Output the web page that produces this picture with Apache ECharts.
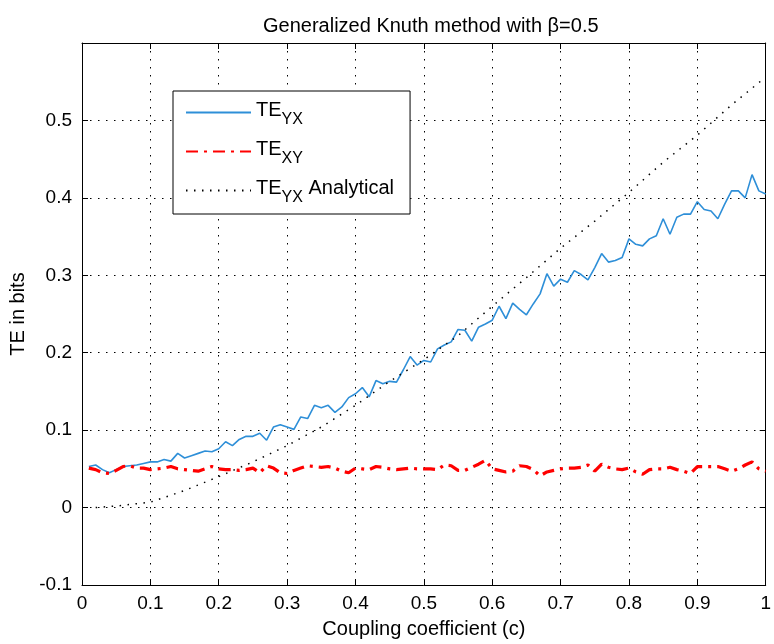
<!DOCTYPE html>
<html>
<head>
<meta charset="utf-8">
<script src="https://cdn.jsdelivr.net/npm/echarts@6/dist/echarts.min.js"></script>
<style>
  html, body { margin: 0; padding: 0; background: #fff; }
  #main { width: 774px; height: 644px; }
</style>
</head>
<body>
<div id="main"></div>
<script>
  // coupling coefficient c, step 0.01
  const coupling = [
    0.01, 0.02, 0.03, 0.04, 0.05, 0.06, 0.07, 0.08, 0.09, 0.10,
    0.11, 0.12, 0.13, 0.14, 0.15, 0.16, 0.17, 0.18, 0.19, 0.20,
    0.21, 0.22, 0.23, 0.24, 0.25, 0.26, 0.27, 0.28, 0.29, 0.30,
    0.31, 0.32, 0.33, 0.34, 0.35, 0.36, 0.37, 0.38, 0.39, 0.40,
    0.41, 0.42, 0.43, 0.44, 0.45, 0.46, 0.47, 0.48, 0.49, 0.50,
    0.51, 0.52, 0.53, 0.54, 0.55, 0.56, 0.57, 0.58, 0.59, 0.60,
    0.61, 0.62, 0.63, 0.64, 0.65, 0.66, 0.67, 0.68, 0.69, 0.70,
    0.71, 0.72, 0.73, 0.74, 0.75, 0.76, 0.77, 0.78, 0.79, 0.80,
    0.81, 0.82, 0.83, 0.84, 0.85, 0.86, 0.87, 0.88, 0.89, 0.90,
    0.91, 0.92, 0.93, 0.94, 0.95, 0.96, 0.97, 0.98, 0.99, 1.00
  ];

  const teYX = [
    0.053, 0.055, 0.049, 0.045, 0.049, 0.053, 0.054, 0.055, 0.057, 0.059,
    0.059, 0.062, 0.060, 0.070, 0.064, 0.067, 0.070, 0.073, 0.072, 0.076,
    0.085, 0.080, 0.088, 0.092, 0.092, 0.096, 0.087, 0.104, 0.107, 0.104,
    0.101, 0.117, 0.115, 0.132, 0.129, 0.132, 0.123, 0.130, 0.142, 0.147,
    0.155, 0.143, 0.164, 0.160, 0.163, 0.162, 0.178, 0.195, 0.184, 0.190,
    0.188, 0.205, 0.210, 0.214, 0.230, 0.229, 0.215, 0.233, 0.237, 0.242,
    0.260, 0.244, 0.264, 0.256, 0.249, 0.263, 0.276, 0.302, 0.286, 0.295,
    0.291, 0.306, 0.301, 0.294, 0.310, 0.328, 0.317, 0.319, 0.323, 0.347,
    0.340, 0.338, 0.347, 0.351, 0.373, 0.353, 0.375, 0.379, 0.379, 0.395,
    0.385, 0.383, 0.373, 0.392, 0.409, 0.409, 0.400, 0.430, 0.409, 0.405
  ];

  const teXY = [
    0.051, 0.049, 0.045, 0.044, 0.048, 0.053, 0.054, 0.051, 0.051, 0.049,
    0.050, 0.051, 0.053, 0.050, 0.049, 0.048, 0.047, 0.050, 0.053, 0.050,
    0.049, 0.049, 0.048, 0.049, 0.051, 0.045, 0.054, 0.051, 0.045, 0.044,
    0.048, 0.051, 0.054, 0.053, 0.052, 0.053, 0.051, 0.047, 0.045, 0.051,
    0.050, 0.049, 0.053, 0.052, 0.050, 0.049, 0.050, 0.051, 0.050, 0.050,
    0.050, 0.049, 0.055, 0.054, 0.048, 0.048, 0.052, 0.056, 0.061, 0.050,
    0.048, 0.046, 0.047, 0.054, 0.053, 0.049, 0.041, 0.046, 0.048, 0.050,
    0.051, 0.051, 0.052, 0.055, 0.047, 0.056, 0.052, 0.050, 0.049, 0.051,
    0.046, 0.043, 0.049, 0.050, 0.050, 0.052, 0.049, 0.047, 0.044, 0.053,
    0.053, 0.053, 0.053, 0.050, 0.047, 0.050, 0.055, 0.059, 0.050, 0.047
  ];

  const analyticalC = [
    0.02, 0.05, 0.10, 0.15, 0.20, 0.25, 0.30, 0.35, 0.40, 0.45, 0.50,
    0.55, 0.60, 0.65, 0.70, 0.75, 0.80, 0.85, 0.90, 0.95, 1.00
  ];
  const teYXAnalytical = [
    0.000, 0.002, 0.007, 0.022, 0.040, 0.059, 0.080, 0.104, 0.132, 0.163, 0.191,
    0.222, 0.260, 0.297, 0.335, 0.370, 0.407, 0.446, 0.481, 0.520, 0.556
  ];

  const xTicks = [0, 1, 0.1];
  const yTicks = [-0.1, 0.6, 0.1];

  const font = 'Liberation Sans, Arial, sans-serif';
  const zip = (xs, ys) => xs.map((x, i) => [x, ys[i]]);

  const myChart = echarts.init(document.getElementById('main'));

  const gridDots = { color: '#000', width: 1, type: [1.5, 6.5] };
  const boxLine = { show: true, onZero: false, lineStyle: { color: '#000', width: 1 } };
  const tickIn = { show: true, inside: true, length: 6, lineStyle: { color: '#000' } };

  myChart.setOption({
    animation: false,
    backgroundColor: '#fff',
    title: {
      text: 'Generalized Knuth method with β=0.5',
      left: 258,
      top: 11,
      textStyle: { fontFamily: font, fontSize: 20, fontWeight: 'normal', color: '#000' }
    },
    grid: { left: 82, right: 2, top: 43, bottom: 56 },
    legend: {
      orient: 'vertical',
      left: 173,
      top: 91,
      padding: [6, 16, 8, 12],
      itemGap: 8,
      itemWidth: 65,
      itemHeight: 14,
      backgroundColor: '#fff',
      borderColor: '#000',
      borderWidth: 1,
      borderRadius: 0,
      itemStyle: { opacity: 0 },
      data: ['TE_YX', 'TE_XY', 'TE_YX Analytical'],
      formatter: function (name) {
        if (name === 'TE_YX') return '{m|TE}{s|YX}';
        if (name === 'TE_XY') return '{m|TE}{s|XY}';
        return '{m|TE}{s|YX}{m| Analytical}';
      },
      textStyle: {
        fontFamily: font,
        color: '#000',
        rich: {
          m: { fontFamily: font, fontSize: 20, lineHeight: 20, verticalAlign: 'top', padding: [3, 0, 0, 0], color: '#000' },
          s: { fontFamily: font, fontSize: 16, lineHeight: 31, verticalAlign: 'bottom', color: '#000' }
        }
      }
    },
    xAxis: [{
      type: 'value',
      min: xTicks[0],
      max: xTicks[1],
      interval: xTicks[2],
      position: 'bottom',
      axisLine: boxLine,
      axisTick: tickIn,
      axisLabel: { color: '#000', fontFamily: font, fontSize: 19, margin: 9 },
      splitLine: { show: true, lineStyle: gridDots },
      name: 'Coupling coefficient (c)',
      nameLocation: 'middle',
      nameGap: 34,
      nameTextStyle: { color: '#000', fontFamily: font, fontSize: 20 }
    }, {
      type: 'value',
      min: xTicks[0],
      max: xTicks[1],
      interval: xTicks[2],
      position: 'top',
      axisLine: boxLine,
      axisTick: tickIn,
      axisLabel: { show: false },
      splitLine: { show: false }
    }],
    yAxis: [{
      type: 'value',
      min: yTicks[0],
      max: yTicks[1],
      interval: yTicks[2],
      position: 'left',
      axisLine: boxLine,
      axisTick: tickIn,
      axisLabel: {
        color: '#000', fontFamily: font, fontSize: 19, margin: 10,
        formatter: function (v) {
          if (v > 0.55) return '';
          return String(+v.toFixed(1));
        }
      },
      splitLine: { show: true, lineStyle: gridDots },
      name: 'TE in bits',
      nameLocation: 'middle',
      nameGap: 53,
      nameTextStyle: { color: '#000', fontFamily: font, fontSize: 20 }
    }, {
      type: 'value',
      min: yTicks[0],
      max: yTicks[1],
      interval: yTicks[2],
      position: 'right',
      axisLine: boxLine,
      axisTick: tickIn,
      axisLabel: { show: false },
      splitLine: { show: false }
    }],
    series: [{
      name: 'TE_YX',
      type: 'line',
      showSymbol: false,
      symbol: 'none',
      color: '#2e8fd8',
      lineStyle: { color: '#2e8fd8', width: 1.6 },
      data: zip(coupling, teYX)
    }, {
      name: 'TE_XY',
      type: 'line',
      showSymbol: false,
      symbol: 'none',
      color: '#ff0000',
      lineStyle: { color: '#ff0000', width: 3.2, type: [12, 6, 3, 6] },
      data: zip(coupling, teXY)
    }, {
      name: 'TE_YX Analytical',
      type: 'line',
      showSymbol: false,
      symbol: 'none',
      color: '#000',
      lineStyle: { color: '#000', width: 1.5, type: [1.5, 6.5] },
      data: zip(analyticalC, teYXAnalytical)
    }]
  });
</script>
</body>
</html>
